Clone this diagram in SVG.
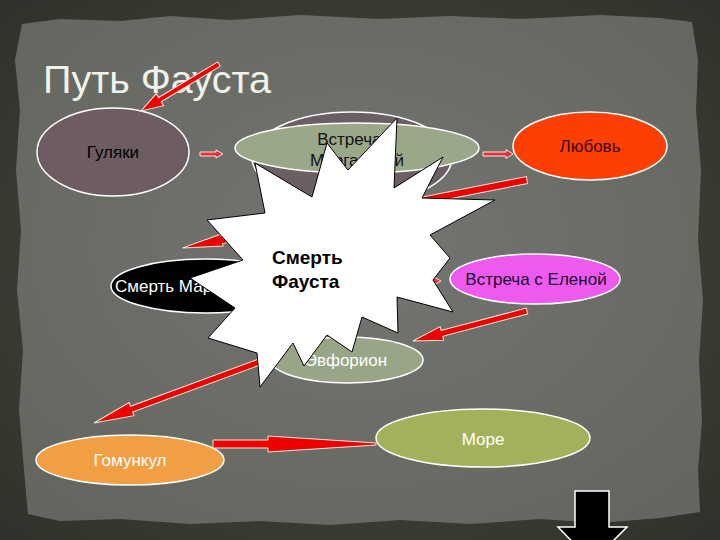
<svg xmlns="http://www.w3.org/2000/svg" width="720" height="540" viewBox="0 0 720 540">
<defs>
<radialGradient id="frame" cx="50%" cy="50%" r="70%">
<stop offset="0" stop-color="#4a4d42"/>
<stop offset="1" stop-color="#2f322a"/>
</radialGradient>
<radialGradient id="paper" cx="50%" cy="45%" r="65%">
<stop offset="0" stop-color="#737671"/>
<stop offset="1" stop-color="#64675f"/>
</radialGradient>
<style>
.nd{stroke:#ffffff;stroke-width:1.5}
.t{font-family:"Liberation Sans",Arial,sans-serif;font-size:17px;text-anchor:middle}
.arr{fill:#ee0000;stroke:#f6e6d8;stroke-width:1}
.sm{fill:#e8303a;stroke:#f6e6d8;stroke-width:1}
</style>
</defs>
<g id="background">
<rect x="0" y="0" width="720" height="540" fill="url(#frame)"/>
<path d="M22,24 L60,19 L120,21 L170,16 L230,20 L300,15 L380,19 L450,16 L520,19 L600,15 L660,18 L692,22 L698,60 L696,110 L701,170 L698,240 L703,300 L699,360 L702,420 L698,470 L700,512 L660,518 L600,523 L540,519 L470,524 L400,520 L330,525 L260,521 L190,524 L120,519 L60,521 L28,514 L24,470 L19,410 L23,350 L17,290 L21,230 L16,170 L20,110 L15,60 Z" fill="url(#paper)"/>
<text x="43" y="93" font-family="'Liberation Sans',Arial,sans-serif" font-size="39.5" fill="#f2f2ea">Путь Фауста</text>
</g>
<g id="node-gulyaki">
<ellipse class="nd" cx="113" cy="152" rx="76" ry="44" fill="#6d5d62"/>
<text class="t" x="113" y="158" fill="#000">Гуляки</text>
</g>
<g id="node-vstrecha-margarita">
<ellipse class="nd" cx="352" cy="158" rx="100" ry="46" fill="#6b5f63"/>
<ellipse class="nd" cx="357" cy="148" rx="122" ry="25" fill="#9aa88a"/>
<text class="t" x="356" y="145" fill="#111">Встреча с</text>
<text class="t" x="357" y="166" fill="#111">Маргаритой</text>
</g>
<g id="node-lyubov">
<ellipse class="nd" cx="590" cy="146" rx="77" ry="34" fill="#fe3f04"/>
<text class="t" x="590" y="152" fill="#3a0a0a" font-size="18">Любовь</text>
</g>
<g id="node-smert-margarity">
<ellipse class="nd" cx="205" cy="286" rx="94" ry="27" fill="#000"/>
<text class="t" x="115" y="292" fill="#fff" style="text-anchor:start">Смерть Маргариты</text>
</g>
<g id="node-elena">
<ellipse class="nd" cx="535" cy="279" rx="85" ry="25" fill="#ee5aee"/>
<text class="t" x="536" y="285" fill="#1a0a30" font-size="18">Встреча с Еленой</text>
</g>
<g id="node-evforion">
<ellipse class="nd" cx="347" cy="360" rx="76" ry="23" fill="#98a587"/>
<text class="t" x="346" y="366" fill="#fff" font-size="18">Эвфорион</text>
</g>
<g id="node-gomunkul">
<ellipse class="nd" cx="130" cy="460" rx="94" ry="25" fill="#f29e42"/>
<text class="t" x="130" y="466" fill="#fff">Гомункул</text>
</g>
<g id="node-more">
<ellipse class="nd" cx="483" cy="438" rx="107" ry="29" fill="#a3b25a"/>
<text class="t" x="483" y="445" fill="#fff" font-size="18">Море</text>
</g>
<g id="connectors">
<polygon class="arr" transform="translate(219,64) rotate(148.9)" points="0,-2.5 69,-2.5 69,-7 91,0 69,7 69,2.5 0,2.5"/>
<polygon class="sm" transform="translate(200,154)" points="0,-2 16,-2 16,-4 23,0 16,4 16,2 0,2"/>
<polygon class="sm" transform="translate(483,154)" points="0,-2 23,-2 23,-4.5 30,0 23,4.5 23,2 0,2"/>
<polygon class="arr" transform="translate(527,180) rotate(168.85)" points="0,-3.5 311,-3.5 311,-6 351,0 311,6 311,3.5 0,3.5"/>
<polygon class="sm" transform="translate(300,281)" points="0,-2 133,-2 133,-4.5 141,0 133,4.5 133,2 0,2"/>
<polygon class="arr" transform="translate(527,311) rotate(165.26)" points="0,-3 88,-3 88,-7 118,0 88,7 88,3 0,3"/>
<polygon class="arr" transform="translate(262,361) rotate(159.74)" points="0,-3 139,-3 139,-7 179,0 139,7 139,3 0,3"/>
<polygon class="arr" points="213,440 268,440 268,436 376,443 376,445 268,452 268,448 213,448"/>
<polygon points="575,491 609,491 609,527 627,527 592,562 558,527 575,527" fill="#000" stroke="#fff" stroke-width="1.5"/>
</g>
<g id="node-smert-fausta">
<polygon points="397,118 394,188 443,157 422,198 495,200 430,235 450,258 433,280 453,312 397,297 398,333 362,317 352,352 327,335 304,366 293,343 260,387 257,353 208,338 235,308 190,278 243,260 207,220 265,213 255,163 312,197 327,143 348,170" fill="#fff" stroke="#000" stroke-width="1"/>
<text x="272" y="264" font-family="'Liberation Sans',Arial,sans-serif" font-size="19" font-weight="bold" fill="#000">Смерть</text>
<text x="272" y="288" font-family="'Liberation Sans',Arial,sans-serif" font-size="19" font-weight="bold" fill="#000">Фауста</text>
</g>
</svg>
